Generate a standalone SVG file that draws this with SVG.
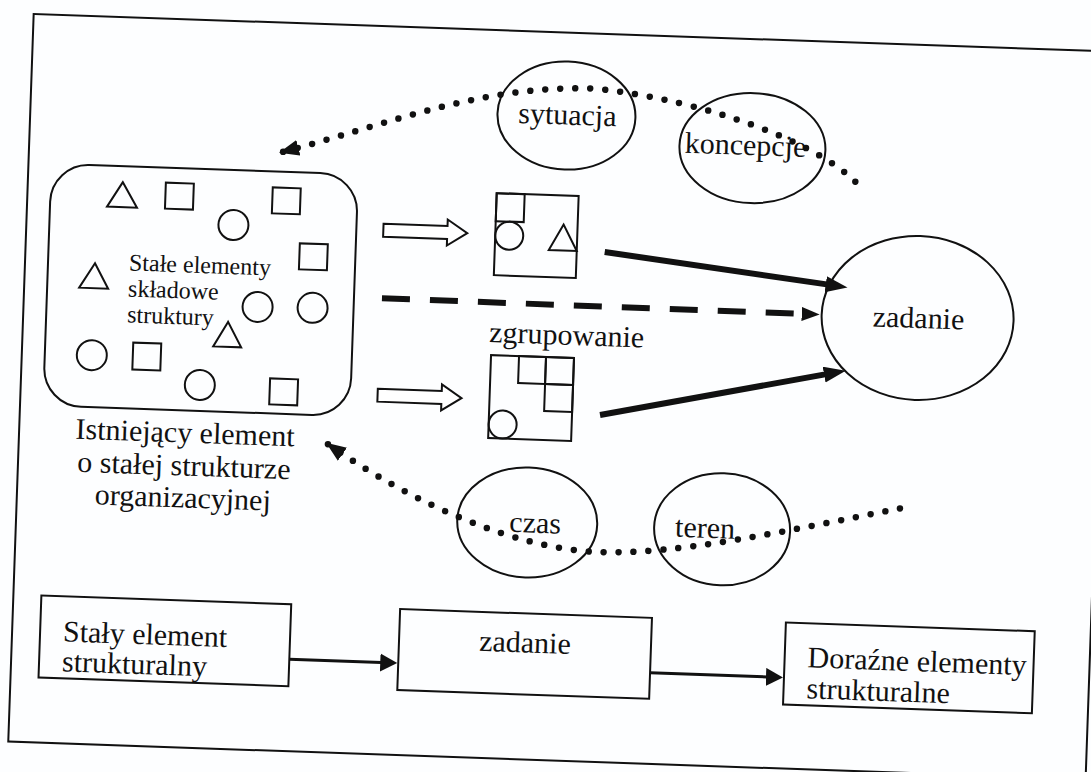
<svg xmlns="http://www.w3.org/2000/svg" width="1091" height="772" viewBox="0 0 1091 772">
  <style>
    .ln { fill: none; stroke: #111; stroke-width: 2; }
    .sh { fill: none; stroke: #111; stroke-width: 2; }
    .t { font-family: "Liberation Serif", "Times New Roman", serif; fill: #111; font-size: 30px; }
    .ts { font-size: 24px; }
    .mid { text-anchor: middle; }
    .thick { fill: none; stroke: #111; stroke-width: 6; }
    .dash { fill: none; stroke: #111; stroke-width: 6; stroke-dasharray: 28 20; }
    .dot { fill: none; stroke: #111; stroke-width: 6.5; stroke-dasharray: 0 15; stroke-linecap: round; }
    .thin { fill: none; stroke: #111; stroke-width: 3; }
    .hollow { fill: #fff; stroke: #111; stroke-width: 2; stroke-linejoin: miter; }
  </style>
  <defs>
    <marker id="headBig" markerUnits="userSpaceOnUse" markerWidth="24" markerHeight="18" refX="1" refY="8" orient="auto">
      <path d="M0,0 L22,8 L0,16 Z" fill="#111"/>
    </marker>
    <marker id="headDash" markerUnits="userSpaceOnUse" markerWidth="20" markerHeight="16" refX="1" refY="7" orient="auto">
      <path d="M0,0 L18,7 L0,14 Z" fill="#111"/>
    </marker>
    <marker id="headSmall" markerUnits="userSpaceOnUse" markerWidth="19" markerHeight="20" refX="1" refY="9" orient="auto">
      <path d="M0,0 L17,9 L0,18 Z" fill="#111"/>
    </marker>
    <marker id="headDot" markerUnits="userSpaceOnUse" markerWidth="22" markerHeight="18" refX="19" refY="8" orient="auto">
      <path d="M0,0 L20,8 L0,16 Z" fill="#111"/>
    </marker>
  </defs>
  <rect x="0" y="0" width="1091" height="772" fill="#fdfeff"/>
  <g transform="rotate(2 545 386)">
    <rect id="frame" x="21" y="32" width="1078" height="728" class="ln" stroke-width="2.5"/>

    <g id="node-existing">
      <rect x="44" y="181" width="307" height="242" rx="38" class="ln" stroke-width="2.5"/>
      <polygon points="116,197 101,222 131,222" class="sh"/>
      <rect x="159" y="196" width="28" height="26" class="sh"/>
      <rect x="266" y="197" width="28" height="26" class="sh"/>
      <circle cx="228" cy="236" r="15" class="sh"/>
      <rect x="295" y="252" width="28" height="26" class="sh"/>
      <polygon points="91,279 76,304 105,304" class="sh"/>
      <circle cx="255" cy="317" r="15" class="sh"/>
      <circle cx="310" cy="316" r="15" class="sh"/>
      <polygon points="226,333 212,358 240,358" class="sh"/>
      <circle cx="91" cy="371" r="15" class="sh"/>
      <rect x="132" y="357" width="28" height="27" class="sh"/>
      <circle cx="200" cy="397" r="15" class="sh"/>
      <rect x="270" y="388" width="28" height="26" class="sh"/>
      <text class="t ts" x="125" y="285">Stałe elementy</text>
      <text class="t ts" x="125" y="311">składowe</text>
      <text class="t ts" x="125" y="337">struktury</text>
      <text class="t mid" x="187" y="455">Istniejący element</text>
      <text class="t mid" x="187" y="488">o stałej strukturze</text>
      <text class="t mid" x="187" y="520">organizacyjnej</text>
    </g>

    <g id="node-group1">
      <rect x="490" y="195" width="82" height="82" class="sh"/>
      <rect x="490" y="195" width="28" height="28" class="sh"/>
      <circle cx="504" cy="237" r="14" class="sh"/>
      <polygon points="558,224 544,250 572,250" class="sh"/>
    </g>

    <g id="node-group2">
      <rect x="490" y="357" width="83" height="83" class="sh"/>
      <rect x="518" y="357" width="27" height="27" class="sh"/>
      <rect x="545" y="357" width="28" height="27" class="sh"/>
      <rect x="545" y="384" width="28" height="27" class="sh"/>
      <circle cx="504" cy="426" r="14" class="sh"/>
    </g>

    <g id="node-zgrupowanie">
      <text class="t mid" x="565" y="344">zgrupowanie</text>
    </g>

    <g id="node-zadanie">
      <ellipse cx="915" cy="305" rx="96" ry="82" class="ln"/>
      <text class="t mid" x="916" y="315">zadanie</text>
    </g>

    <g id="node-sytuacja">
      <ellipse cx="557" cy="115" rx="69" ry="54" class="ln"/>
      <text class="t mid" x="558" y="124">sytuacja</text>
    </g>

    <g id="node-koncepcje">
      <ellipse cx="744" cy="141" rx="73" ry="55" class="ln"/>
      <text class="t mid" x="737" y="148">koncepcje</text>
    </g>

    <g id="node-czas">
      <ellipse cx="532" cy="523" rx="70" ry="55" class="ln"/>
      <text class="t mid" x="540" y="533">czas</text>
    </g>

    <g id="node-teren">
      <ellipse cx="727" cy="523" rx="68" ry="56" class="ln"/>
      <text class="t mid" x="710" y="532">teren</text>
    </g>

    <g id="node-staly">
      <rect x="49" y="613" width="250" height="82" class="ln"/>
      <text class="t" x="72" y="658">Stały element</text>
      <text class="t" x="72" y="688">strukturalny</text>
    </g>

    <g id="node-zadanie2">
      <rect x="408" y="614" width="252" height="81" class="ln"/>
      <text class="t mid" x="534" y="653">zadanie</text>
    </g>

    <g id="node-dorazne">
      <rect x="794" y="614" width="249" height="82" class="ln"/>
      <text class="t" x="817" y="658">Doraźne elementy</text>
      <text class="t" x="817" y="689">strukturalne</text>
    </g>

    <g id="connectors">
      <path class="hollow" d="M378,229.5 H442 V223 L462,236 L442,249 V242.5 H378 Z"/>
      <path class="hollow" d="M378,394.5 H442 V388 L462,401 L442,414 V407.5 H378 Z"/>
      <line class="thick" x1="600" y1="250" x2="823" y2="274.6" marker-end="url(#headBig)"/>
      <line class="thick" x1="601" y1="413" x2="824.5" y2="364.6" marker-end="url(#headBig)"/>
      <line class="dash" x1="379" y1="304" x2="800" y2="305" marker-end="url(#headDash)"/>
      <path class="dot" d="M848,171 C810,135 700,95 584,87 C470,87 380,130 272,162" marker-end="url(#headDot)"/>
      <path class="dot" d="M904,496 C800,520 680,552 598,550 C520,548 420,510 329,451" marker-end="url(#headDot)"/>
      <line class="thin" x1="299" y1="668" x2="391" y2="668" marker-end="url(#headSmall)"/>
      <line class="thin" x1="660" y1="669" x2="777" y2="669" marker-end="url(#headSmall)"/>
    </g>
  </g>
</svg>
